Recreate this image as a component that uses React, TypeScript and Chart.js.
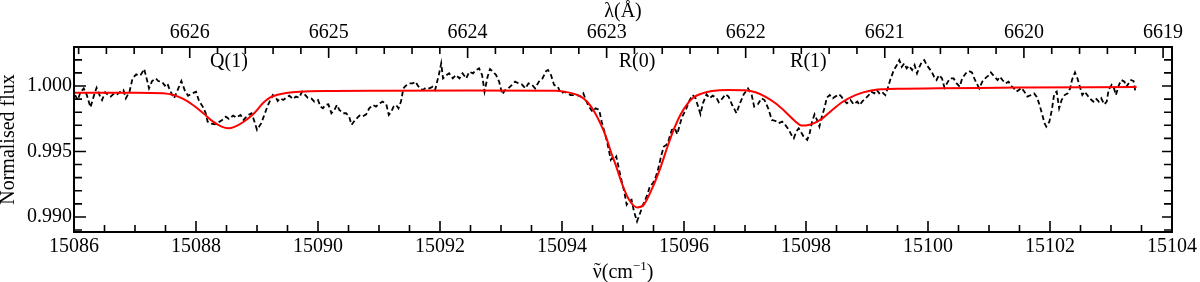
import React, { useEffect, useRef } from "react";
import { Chart, registerables } from "chart.js";

Chart.register(...registerables);

const SERIF = "'Liberation Serif', 'Times New Roman', Times, serif";

// ---- axes ----
const xRange = [15086, 15104];
const yRange = [0.98885, 1.00298];
const bottomTickValues = [15086, 15088, 15090, 15092, 15094, 15096, 15098, 15100, 15102, 15104];
const leftTickValues = [0.99, 0.995, 1.0];
const topTickWavelengths = [6626, 6625, 6624, 6623, 6622, 6621, 6620, 6619];
const AIR_INDEX = 1.000276;
const wavelengthToWavenumber = (lam: number) => 1e8 / (lam * AIR_INDEX);

// ---- axis titles ----
const bottomTitleParts = { symbol: "\u03BD", accent: "\u02DC", unitOpen: "(cm", exponent: "\u22121", unitClose: ")" };
const topTitle = "\u03BB(\u00C5)";
const leftTitle = "Normalised flux";

// ---- line identifications ----
const lineLabels = ["Q(1)", "R(0)", "R(1)"];
const lineCentres = [15088.54, 15095.23, 15098.04];

// ---- observed spectrum (wavenumber cm^-1, normalised flux) ----
const observedSpectrum: [number, number][] = [
  [15086.02, 0.99931], [15086.06, 0.99893], [15086.11, 0.99957], [15086.16, 0.99982], [15086.21, 0.99931],
  [15086.27, 0.99837], [15086.33, 0.99931], [15086.37, 0.99987], [15086.43, 0.99919], [15086.46, 0.99893],
  [15086.51, 0.99952], [15086.56, 0.99931], [15086.60, 0.99919], [15086.66, 0.99944], [15086.71, 0.99937],
  [15086.76, 0.99957], [15086.81, 0.9997], [15086.85, 0.99906], [15086.91, 0.99957], [15086.96, 1.00058],
  [15087.02, 1.00089], [15087.06, 1.00079], [15087.10, 1.00089], [15087.15, 1.0013], [15087.19, 1.00058],
  [15087.23, 0.99982], [15087.28, 1.00038], [15087.34, 1.00058], [15087.38, 1.00038], [15087.44, 1.00033],
  [15087.49, 1.00003], [15087.53, 1.0002], [15087.57, 0.9997], [15087.64, 0.99906], [15087.70, 0.9997],
  [15087.76, 1.00038], [15087.82, 0.99962], [15087.87, 0.99926], [15087.94, 0.99944], [15088.00, 0.99957],
  [15088.05, 0.99886], [15088.11, 0.99843], [15088.16, 0.99792], [15088.19, 0.99728], [15088.25, 0.99713],
  [15088.31, 0.99708], [15088.37, 0.99723], [15088.43, 0.99741], [15088.49, 0.99766], [15088.54, 0.99749],
  [15088.61, 0.99774], [15088.66, 0.99759], [15088.73, 0.99779], [15088.78, 0.99741], [15088.84, 0.99774],
  [15088.91, 0.99792],
  [15088.95, 0.99741], [15089.00, 0.99665], [15089.07, 0.99716], [15089.13, 0.99792], [15089.18, 0.99855],
  [15089.22, 0.99893], [15089.26, 0.99931], [15089.31, 0.99911], [15089.34, 0.99886], [15089.38, 0.99906],
  [15089.43, 0.99893], [15089.48, 0.99911], [15089.53, 0.99926], [15089.59, 0.99901], [15089.64, 0.99919],
  [15089.69, 0.99911], [15089.74, 0.99957], [15089.78, 0.99937], [15089.83, 0.99911], [15089.89, 0.99906],
  [15089.94, 0.99881], [15090.00, 0.99893], [15090.04, 0.99843], [15090.08, 0.9983], [15090.12, 0.99855],
  [15090.17, 0.9986], [15090.22, 0.99792], [15090.27, 0.99817], [15090.31, 0.99855], [15090.35, 0.99817],
  [15090.41, 0.99792], [15090.46, 0.99792], [15090.51, 0.99766], [15090.55, 0.99703], [15090.61, 0.99741],
  [15090.68, 0.99774], [15090.73, 0.99766], [15090.79, 0.99784], [15090.84, 0.9983], [15090.90, 0.99855],
  [15090.95, 0.99843], [15091.01, 0.99868], [15091.06, 0.99881], [15091.12, 0.9986], [15091.16, 0.99779],
  [15091.20, 0.99804], [15091.24, 0.99843], [15091.28, 0.99855], [15091.32, 0.9983], [15091.36, 0.99881],
  [15091.40, 0.99982], [15091.44, 1.00003], [15091.50, 1.0002], [15091.55, 1.0002], [15091.60, 1.00033],
  [15091.63, 1.00008], [15091.67, 0.99982], [15091.72, 0.9997], [15091.77, 0.99987], [15091.83, 0.99982],
  [15091.88, 0.99995], [15091.92, 0.9997], [15091.98, 1.00084], [15092.02, 1.00173], [15092.05, 1.00058],
  [15092.11, 1.00084], [15092.15, 1.00097], [15092.21, 1.00058], [15092.26, 1.00084], [15092.32, 1.00058],
  [15092.37, 1.00097], [15092.43, 1.00058], [15092.48, 1.00109], [15092.54, 1.00097], [15092.59, 1.00122],
  [15092.64, 1.00135], [15092.69, 1.00084], [15092.73, 0.99957], [15092.78, 1.00071], [15092.82, 1.0013],
  [15092.87, 1.00109], [15092.92, 1.00084], [15092.97, 1.00033], [15093.02, 0.99937], [15093.07, 0.9997],
  [15093.12, 0.99982], [15093.18, 1.00008], [15093.23, 1.00033], [15093.29, 1.0002], [15093.34, 1.00013],
  [15093.40, 0.99982], [15093.45, 1.0002], [15093.51, 1.00008], [15093.56, 0.99982], [15093.62, 1.00033],
  [15093.68, 1.00058], [15093.74, 1.00114], [15093.77, 1.00122], [15093.82, 1.00084], [15093.87, 1.00008],
  [15093.93, 0.99995], [15093.98, 0.99944], [15094.04, 0.99957], [15094.09, 0.99944], [15094.14, 0.99931],
  [15094.20, 0.99931], [15094.25, 0.99931], [15094.31, 0.99919], [15094.35, 0.99944], [15094.39, 0.99893],
  [15094.44, 0.99843], [15094.50, 0.99804], [15094.55, 0.9983], [15094.61, 0.99817], [15094.65, 0.99728],
  [15094.71, 0.99627], [15094.75, 0.9955], [15094.80, 0.99436],
  [15094.82, 0.99449], [15094.85, 0.99436], [15094.89, 0.99462], [15094.93, 0.99373], [15094.98, 0.99271],
  [15095.02, 0.99195], [15095.06, 0.99093], [15095.10, 0.99119], [15095.14, 0.99131], [15095.18, 0.99042],
  [15095.23, 0.98966], [15095.29, 0.99042], [15095.34, 0.99106], [15095.40, 0.99169], [15095.44, 0.99233],
  [15095.49, 0.99258], [15095.54, 0.99309], [15095.58, 0.99373], [15095.63, 0.99474], [15095.67, 0.99538],
  [15095.71, 0.9955], [15095.75, 0.99589], [15095.80, 0.99665], [15095.85, 0.99677], [15095.89, 0.99632],
  [15095.93, 0.99703], [15095.97, 0.99766], [15096.03, 0.99817], [15096.08, 0.99881], [15096.14, 0.99931],
  [15096.19, 0.99906], [15096.24, 0.9983], [15096.27, 0.99784], [15096.31, 0.99868], [15096.37, 0.99937],
  [15096.42, 0.99906], [15096.47, 0.99926], [15096.53, 0.99911], [15096.57, 0.99876], [15096.63, 0.99906],
  [15096.68, 0.99937], [15096.73, 0.99919], [15096.79, 0.99855], [15096.86, 0.99792], [15096.91, 0.9986],
  [15096.98, 0.99937], [15097.05, 0.99982], [15097.11, 0.99931], [15097.15, 0.99843], [15097.21, 0.9986],
  [15097.27, 0.99906], [15097.32, 0.99893], [15097.38, 0.9983], [15097.44, 0.99741], [15097.50, 0.99733],
  [15097.55, 0.99716], [15097.61, 0.99728], [15097.66, 0.99703],
  [15097.72, 0.99665], [15097.76, 0.99627], [15097.80, 0.99601], [15097.84, 0.99652], [15097.88, 0.99677],
  [15097.92, 0.99647], [15097.96, 0.99614], [15098.02, 0.99589], [15098.06, 0.99639], [15098.10, 0.99728],
  [15098.14, 0.99784], [15098.18, 0.99741], [15098.22, 0.9969], [15098.26, 0.99766], [15098.31, 0.99843],
  [15098.34, 0.99911], [15098.39, 0.99931], [15098.44, 0.99906], [15098.48, 0.99919], [15098.54, 0.99937],
  [15098.58, 0.99919], [15098.62, 0.99893], [15098.67, 0.99868], [15098.73, 0.99893], [15098.78, 0.9986],
  [15098.84, 0.99881], [15098.88, 0.99855], [15098.93, 0.99886], [15098.98, 0.99906], [15099.03, 0.99931],
  [15099.07, 0.99957], [15099.12, 0.99944], [15099.16, 0.9997], [15099.20, 0.99944], [15099.24, 0.99957],
  [15099.30, 0.99931], [15099.34, 0.99982], [15099.38, 1.00046], [15099.44, 1.00122], [15099.49, 1.0016],
  [15099.53, 1.00198], [15099.57, 1.00147], [15099.61, 1.00173], [15099.65, 1.00135], [15099.69, 1.00155],
  [15099.74, 1.00122], [15099.78, 1.0016], [15099.82, 1.00097], [15099.86, 1.00147], [15099.90, 1.00185],
  [15099.94, 1.00198], [15099.98, 1.0016], [15100.02, 1.00135], [15100.06, 1.00109], [15100.10, 1.00071],
  [15100.14, 1.00046], [15100.18, 1.00084], [15100.23, 1.00058], [15100.27, 0.99987], [15100.32, 1.00028],
  [15100.36, 1.00058], [15100.42, 1.00058], [15100.47, 1.0002], [15100.52, 0.99995], [15100.56, 1.00058],
  [15100.62, 1.00097], [15100.67, 1.00114],
  [15100.72, 1.00104], [15100.77, 1.00046], [15100.84, 0.99982], [15100.89, 1.00033], [15100.95, 1.00064],
  [15100.99, 1.00079], [15101.03, 1.00104], [15101.09, 1.00071], [15101.14, 1.00046], [15101.18, 1.00071],
  [15101.22, 1.00046], [15101.27, 1.0002], [15101.32, 1.00033], [15101.36, 1.00003], [15101.41, 0.99982],
  [15101.45, 0.99957], [15101.49, 0.9997], [15101.53, 0.99987], [15101.58, 0.99957], [15101.63, 0.99919],
  [15101.69, 0.99931], [15101.74, 0.99944], [15101.78, 0.99919], [15101.82, 0.99868], [15101.86, 0.99804],
  [15101.91, 0.99716], [15101.94, 0.9969], [15101.99, 0.99728], [15102.03, 0.99817], [15102.07, 0.99944],
  [15102.11, 0.99957], [15102.15, 0.9983], [15102.19, 0.99893], [15102.24, 0.99931], [15102.29, 0.99944],
  [15102.33, 0.99982], [15102.36, 1.00046], [15102.41, 1.00104], [15102.45, 1.00058], [15102.49, 0.99995],
  [15102.53, 0.99931], [15102.57, 0.99957], [15102.61, 0.99931], [15102.65, 0.99906], [15102.71, 0.99881],
  [15102.75, 0.99906], [15102.80, 0.99881], [15102.84, 0.99906], [15102.89, 0.9986], [15102.93, 0.99881],
  [15102.96, 0.9997], [15103.01, 1.00008], [15103.05, 0.99982], [15103.08, 0.99931], [15103.13, 1.00008],
  [15103.17, 1.00046], [15103.22, 1.00033], [15103.25, 0.99995], [15103.29, 1.0002], [15103.33, 1.00046],
  [15103.37, 1.00038], [15103.40, 0.99957],
];

// ---- fitted model (wavenumber cm^-1, normalised flux) ----
const modelSpectrum: [number, number][] = [
  [15086.0, 0.99949], [15086.5, 0.99949], [15087.0, 0.99949], [15087.46, 0.99944], [15087.63, 0.99931],
  [15087.79, 0.99901], [15087.95, 0.99855], [15088.12, 0.99792], [15088.28, 0.99728], [15088.42, 0.9969],
  [15088.53, 0.99677], [15088.63, 0.99688], [15088.77, 0.99723], [15088.94, 0.99786], [15089.1, 0.9987],
  [15089.21, 0.99911], [15089.32, 0.99931], [15089.48, 0.99947], [15089.7, 0.99957], [15090.24, 0.99962],
  [15091.06, 0.99964], [15092.5, 0.99965], [15093.9, 0.99964], [15094.01, 0.99959], [15094.17, 0.99944],
  [15094.31, 0.99919], [15094.42, 0.99876], [15094.53, 0.99804], [15094.64, 0.99703], [15094.72, 0.99614],
  [15094.8, 0.995], [15094.88, 0.99398], [15094.99, 0.99246], [15095.1, 0.99131], [15095.23, 0.99073],
  [15095.34, 0.99093], [15095.48, 0.9922], [15095.62, 0.99385], [15095.73, 0.99538], [15095.83, 0.99665],
  [15095.94, 0.99779], [15096.05, 0.9986], [15096.16, 0.99914], [15096.3, 0.99944], [15096.46, 0.99962],
  [15096.73, 0.9997], [15097.01, 0.99967], [15097.17, 0.99952], [15097.33, 0.99919], [15097.5, 0.99868],
  [15097.66, 0.99804], [15097.8, 0.9974], [15097.94, 0.99698], [15098.04, 0.99703], [15098.15, 0.99721],
  [15098.26, 0.99749], [15098.43, 0.99817], [15098.59, 0.99876], [15098.81, 0.99931], [15099.03, 0.99962],
  [15099.24, 0.99975], [15099.52, 0.9998], [15100.17, 0.99982], [15101.5, 0.99988], [15103.42, 0.99992],
];

const frameAndTicks = {
  id: "frameAndTicks",
  afterDatasetsDraw(chart: any) {
    const { ctx, chartArea } = chart;
    const { left, right, top, bottom } = chartArea;
    const xs = chart.scales.x;
    const ys = chart.scales.y;
    ctx.save();
    ctx.strokeStyle = "#000";
    ctx.lineWidth = 1.6;
    ctx.beginPath();
    // bottom axis: minor every 0.5 cm^-1, major every 2
    for (let k = 0; k <= 36; k++) {
      const v = xRange[0] + k * 0.5;
      const px = xs.getPixelForValue(v);
      const len = k % 4 === 0 ? 11 : 7;
      ctx.moveTo(px, bottom);
      ctx.lineTo(px, bottom - len);
    }
    // top axis: minor every 0.2 A, major every 1 A
    for (let k = 0; k <= 45; k++) {
      const lam = 6627 - k * 0.2;
      const nu = wavelengthToWavenumber(lam);
      if (nu < xRange[0] || nu > xRange[1]) continue;
      const px = xs.getPixelForValue(nu);
      const len = k % 5 === 0 ? 11 : 7;
      ctx.moveTo(px, top);
      ctx.lineTo(px, top + len);
    }
    // left / right axes: minor every 0.001, major every 0.005
    for (let k = 0; k <= 14; k++) {
      const v = 0.989 + k * 0.001;
      if (v < yRange[0] || v > yRange[1]) continue;
      const py = ys.getPixelForValue(v);
      const major = (989 + k) % 5 === 0;
      const len = major ? 12 : 8;
      ctx.moveTo(left, py);
      ctx.lineTo(left + len, py);
      ctx.moveTo(right, py);
      ctx.lineTo(right - (major ? 10 : 8), py);
    }
    ctx.stroke();
    ctx.lineWidth = 2;
    ctx.strokeRect(left, top, right - left, bottom - top);

    ctx.fillStyle = "#000";
    // line identifications
    ctx.font = `20px ${SERIF}`;
    ctx.textAlign = "center";
    ctx.textBaseline = "middle";
    lineLabels.forEach((lab, i) => {
      ctx.fillText(lab, xs.getPixelForValue(lineCentres[i]), top + 15);
    });

    // bottom axis title: wavenumber with tilde and superscript unit
    const big = `20px ${SERIF}`;
    const small = `13px ${SERIF}`;
    ctx.textAlign = "left";
    ctx.textBaseline = "alphabetic";
    ctx.font = big;
    const wSym = ctx.measureText(bottomTitleParts.symbol).width;
    const wOpen = ctx.measureText(bottomTitleParts.unitOpen).width;
    const wClose = ctx.measureText(bottomTitleParts.unitClose).width;
    ctx.font = small;
    const wExp = ctx.measureText(bottomTitleParts.exponent).width;
    const total = wSym + wOpen + wExp + wClose;
    const cx = (left + right) / 2;
    const base = chart.height - 4.5;
    let x = cx - total / 2;
    ctx.font = big;
    ctx.fillText(bottomTitleParts.symbol, x, base);
    ctx.textAlign = "center";
    ctx.fillText(bottomTitleParts.accent, x + wSym / 2, base - 1);
    ctx.textAlign = "left";
    x += wSym;
    ctx.fillText(bottomTitleParts.unitOpen, x, base);
    x += wOpen;
    ctx.font = small;
    ctx.fillText(bottomTitleParts.exponent, x, base - 8);
    x += wExp;
    ctx.font = big;
    ctx.fillText(bottomTitleParts.unitClose, x, base);
    ctx.restore();
  },
};

export default function App() {
  const ref = useRef<HTMLCanvasElement>(null);

  useEffect(() => {
    if (!ref.current) return;
    const tickFont = { family: SERIF, size: 20, lineHeight: 1.2 };
    const titleFont = { family: SERIF, size: 20, lineHeight: 1.0 };
    const chart = new Chart(ref.current, {
      type: "line",
      data: {
        datasets: [
          {
            label: "Model",
            data: modelSpectrum.map(([x, y]) => ({ x, y })),
            borderColor: "#ff0000",
            borderWidth: 2,
            pointRadius: 0,
            cubicInterpolationMode: "monotone",
            fill: false,
            order: 0,
          },
          {
            label: "Observed",
            data: observedSpectrum.map(([x, y]) => ({ x, y })),
            borderColor: "#000000",
            borderWidth: 1.8,
            borderDash: [5, 3],
            pointRadius: 0,
            tension: 0,
            fill: false,
            order: 1,
          },
        ],
      },
      options: {
        animation: false,
        responsive: false,
        devicePixelRatio: 1,
        layout: { padding: { left: 0, right: 26, top: 0, bottom: 0 } },
        plugins: { legend: { display: false }, tooltip: { enabled: false } },
        scales: {
          x: {
            type: "linear",
            position: "bottom",
            min: xRange[0],
            max: xRange[1],
            afterBuildTicks: (s: any) => {
              s.ticks = bottomTickValues.map((v) => ({ value: v }));
            },
            afterFit: (s: any) => {
              s.height = 50;
            },
            ticks: {
              callback: (v: any) => String(v),
              font: tickFont,
              color: "#000",
              padding: 3,
              maxRotation: 0,
              autoSkip: false,
            },
            grid: { display: false, drawTicks: false },
            border: { display: false },
            title: { display: false },
          },
          xTop: {
            type: "linear",
            axis: "x",
            position: "top",
            min: xRange[0],
            max: xRange[1],
            afterBuildTicks: (s: any) => {
              s.ticks = topTickWavelengths.map((l) => ({ value: wavelengthToWavenumber(l) }));
            },
            afterFit: (s: any) => {
              s.height = 47;
            },
            ticks: {
              callback: (_v: any, i: number) => String(topTickWavelengths[i]),
              font: tickFont,
              color: "#000",
              padding: 2,
              maxRotation: 0,
              autoSkip: false,
            },
            grid: { display: false, drawTicks: false },
            border: { display: false },
            title: {
              display: true,
              text: topTitle,
              font: titleFont,
              color: "#000",
              padding: { top: 2, bottom: 0 },
            },
          },
          y: {
            type: "linear",
            position: "left",
            min: yRange[0],
            max: yRange[1],
            afterBuildTicks: (s: any) => {
              s.ticks = leftTickValues.map((v) => ({ value: v }));
            },
            afterFit: (s: any) => {
              s.width = 74;
            },
            ticks: {
              callback: (v: any) => Number(v).toFixed(3),
              font: tickFont,
              color: "#000",
              padding: 2,
              autoSkip: false,
            },
            grid: { display: false, drawTicks: false },
            border: { display: false },
            title: {
              display: true,
              text: leftTitle,
              font: { family: SERIF, size: 20, lineHeight: 0.9 },
              color: "#000",
              padding: { top: 0, bottom: 0 },
            },
          },
        },
      } as any,
      plugins: [frameAndTicks],
    });
    return () => chart.destroy();
  }, []);

  return (
    <div
      style={{
        position: "fixed",
        left: 0,
        top: 0,
        width: 1200,
        height: 282,
        background: "#fff",
      }}
    >
      <canvas ref={ref} width={1200} height={282} style={{ display: "block", width: 1200, height: 282 }} />
    </div>
  );
}
